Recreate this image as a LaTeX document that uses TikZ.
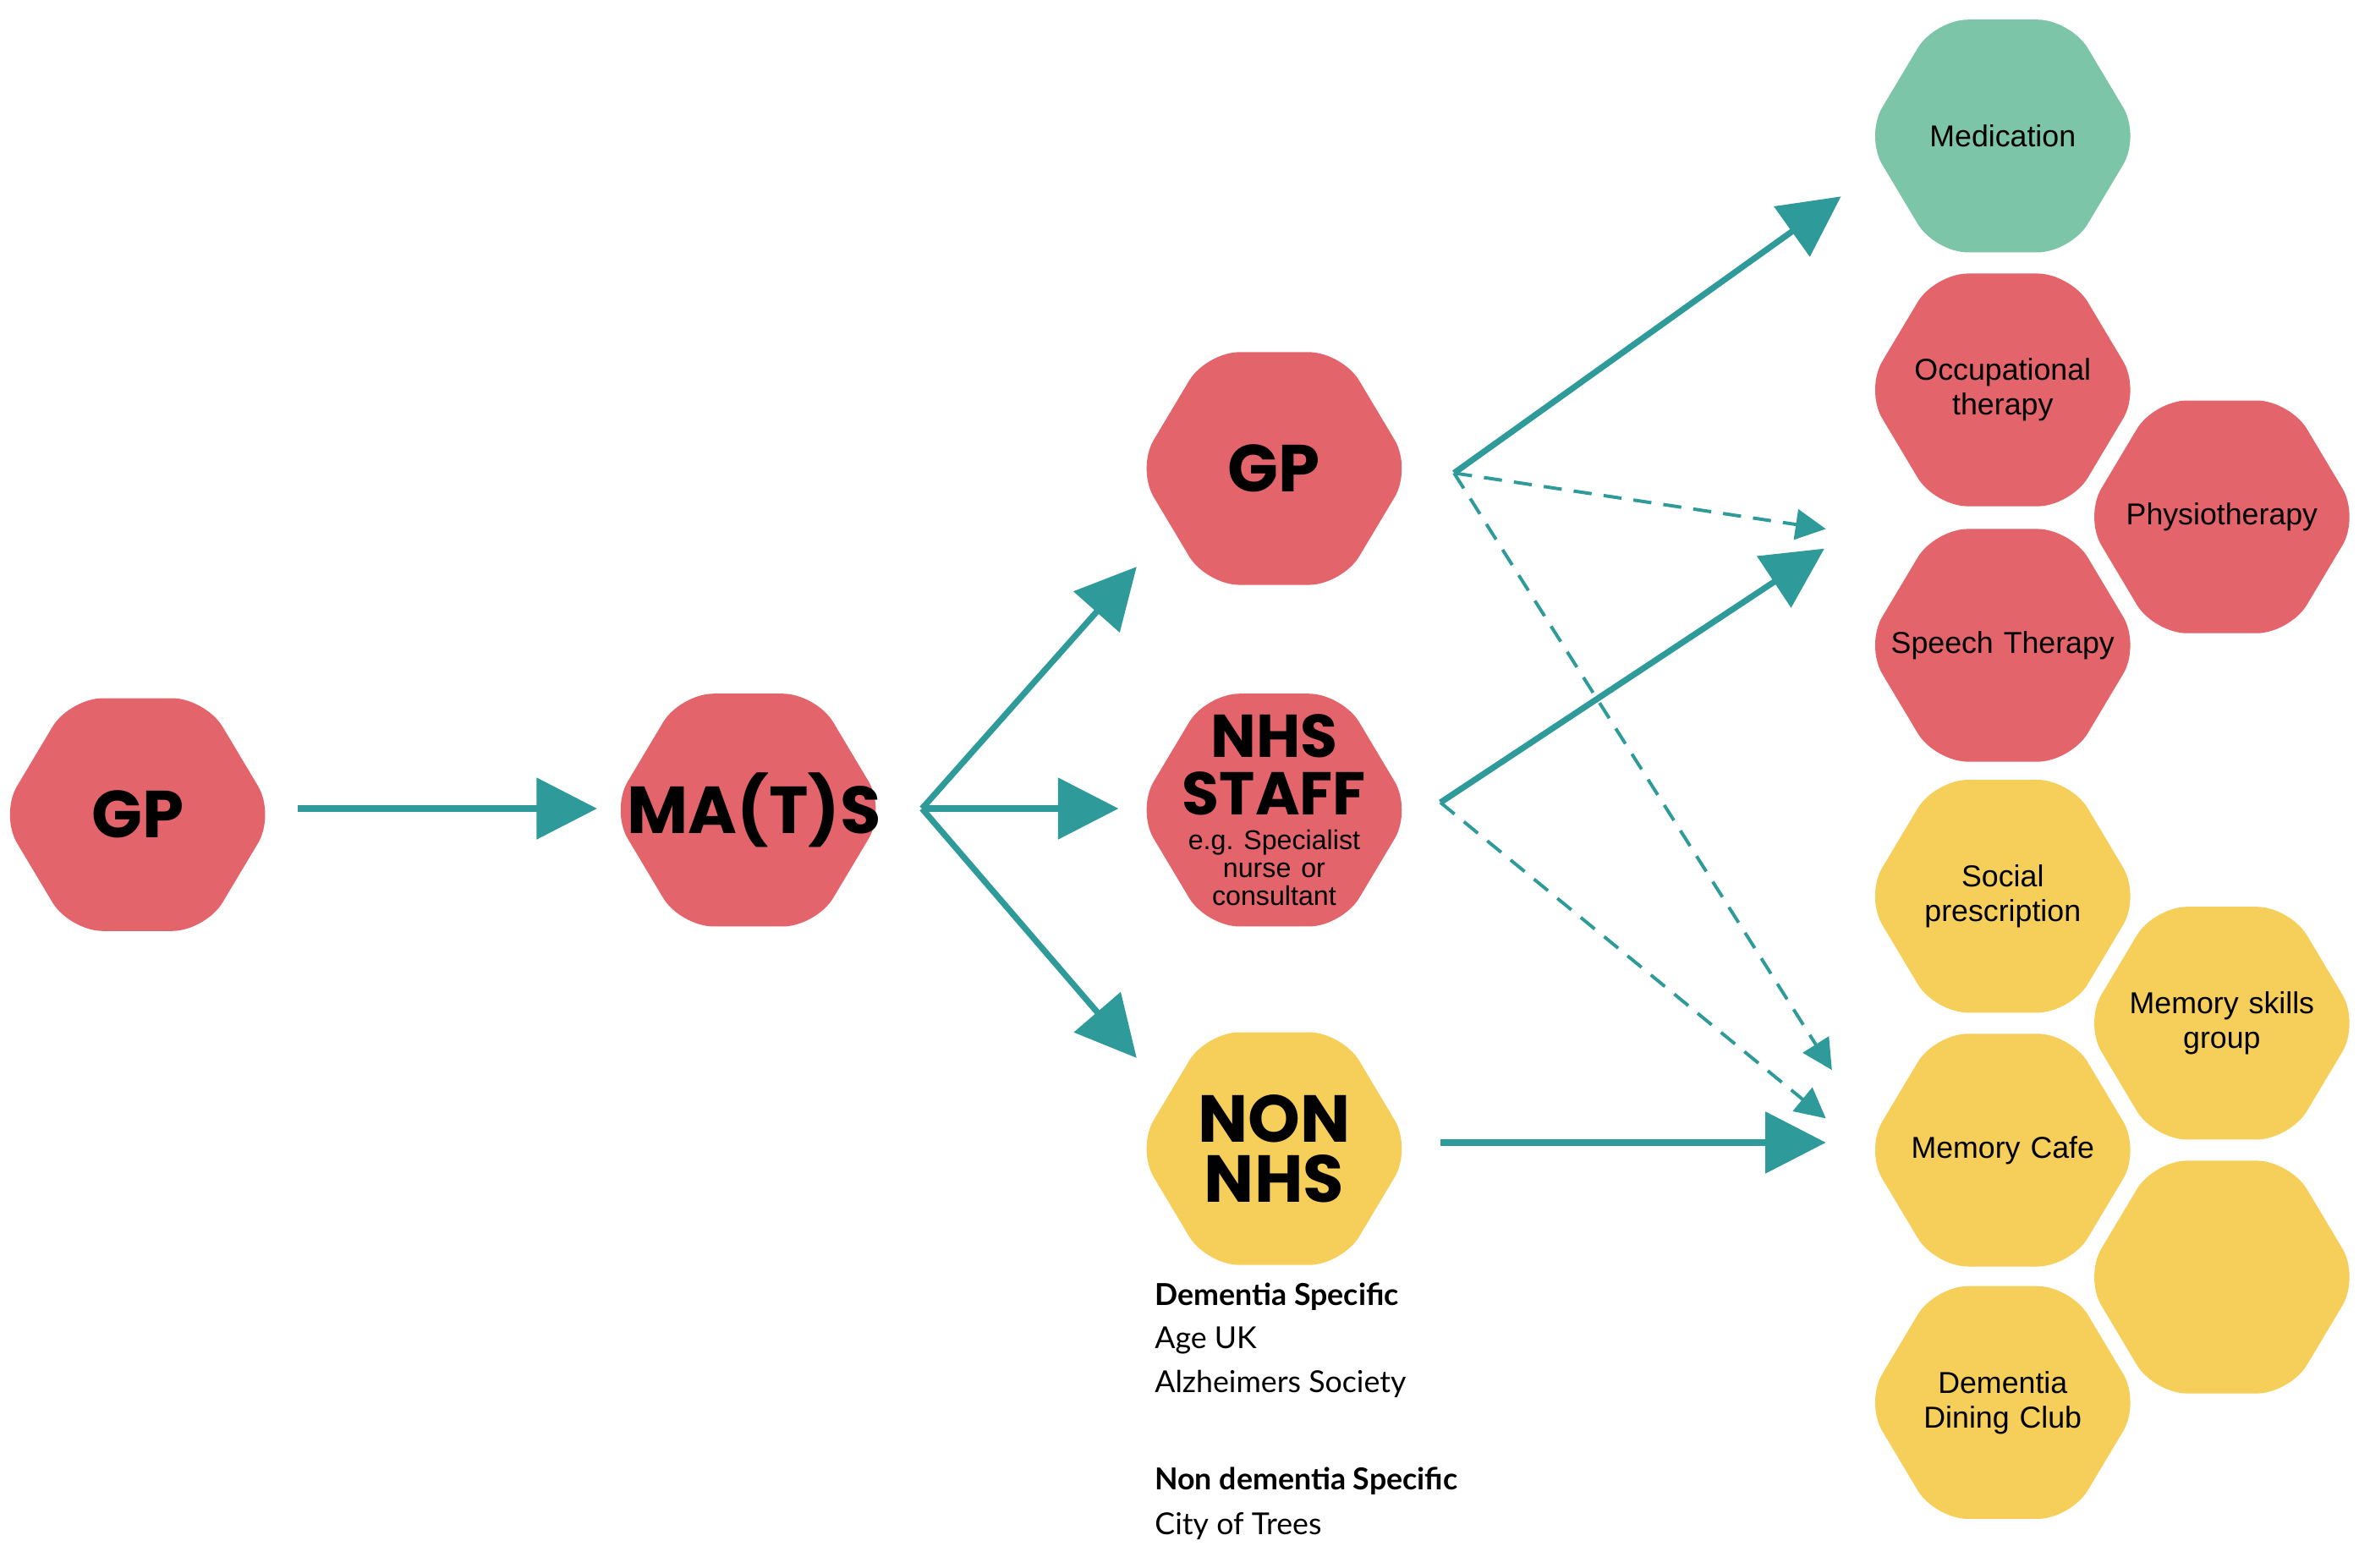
\documentclass[tikz,border=0pt]{standalone}
\usepackage{fontspec}
\setmainfont{Liberation Sans}
\newfontfamily\bigf{Poppins}
\newfontfamily\txtf{Lato}
\usetikzlibrary{shapes.geometric,arrows.meta}
\definecolor{hred}{HTML}{E3646A}
\definecolor{hgreen}{HTML}{7DC5A8}
\definecolor{hyel}{HTML}{F6CE5A}
\definecolor{teal}{HTML}{2E9A9A}
\frenchspacing
\newcommand{\hexat}[3]{\fill[#3,rounded corners=11pt] (#1-91,#2) -- (#1-45,#2-77) -- (#1+45,#2-77) -- (#1+91,#2) -- (#1+45,#2+77) -- (#1-45,#2+77) -- cycle;}
\begin{document}
\begin{tikzpicture}[x=0.5pt,y=-0.5pt,
 hex/.style={align=center,text width=80pt,inner sep=0pt,font=\fontsize{10}{11.5}\selectfont},
 big/.style={hex,font=\bigf\bfseries\fontsize{22}{20}\selectfont},
 arr/.style={teal,line width=2pt,-{Triangle[length=20pt,width=20pt]}},
 darr/.style={teal,line width=1.1pt,dash pattern=on 6pt off 4pt,-{Triangle[length=10pt,width=10pt]}},
 lab/.style={anchor=west,font=\txtf\fontsize{10}{12}\selectfont}]
\useasboundingbox (0,0) rectangle (1568,1037);
\hexat{91}{539}{hred} \hexat{495}{536}{hred} \hexat{843}{310}{hred}
\hexat{843}{536}{hred} \hexat{843}{760}{hyel}
\hexat{1325}{90}{hgreen} \hexat{1325}{258}{hred} \hexat{1470}{342}{hred}
\hexat{1325}{427}{hred} \hexat{1325}{593}{hyel} \hexat{1470}{677}{hyel}
\hexat{1325}{761}{hyel} \hexat{1470}{845}{hyel} \hexat{1325}{928}{hyel}
\node[big] (gp1) at (91,539) {GP};
\node[big] (mats) at (495,536) {MA(T)S};
\node[big] (gp2) at (843,310) {GP};
\node[hex] (nhs) at (843,536) {{\bigf\bfseries\fontsize{20}{19}\selectfont NHS\\STAFF\par}\vspace{2pt}{\fontsize{9}{9.3}\selectfont e.g. Specialist\\nurse or\\consultant\par}};
\node[big] (non) at (843,760) {NON\\NHS};
\node[hex] (med) at (1325,90) {Medication};
\node[hex] (occ) at (1325,258) {Occupational\\therapy};
\node[hex] (phy) at (1470,342) {Physiotherapy};
\node[hex] (spe) at (1325,427) {Speech Therapy};
\node[hex] (soc) at (1325,593) {Social\\prescription};
\node[hex] (msg) at (1470,677) {Memory skills\\group};
\node[hex] (caf) at (1325,761) {Memory Cafe};
\node[hex] (din) at (1325,928) {Dementia\\Dining Club};
\node[lab,font=\txtf\bfseries\fontsize{10}{12}\selectfont] (t1) at (757,858) {Dementia Specific};
\node[lab] (t2) at (757,887) {Age UK};
\node[lab] (t3) at (757,916) {Alzheimers Society};
\node[lab,font=\txtf\bfseries\fontsize{10}{12}\selectfont] (t4) at (757,980) {Non dementia Specific};
\node[lab] (t5) at (757,1010) {City of Trees};
\coordinate (a0) at (197,535); \coordinate (a1) at (395,535);
\coordinate (m0) at (610,535);
\coordinate (mg) at (752,375); \coordinate (mn) at (740,535); \coordinate (mo) at (752,700);
\coordinate (g0) at (962,313); \coordinate (gm) at (1218,130);
\coordinate (gt) at (1208,350); \coordinate (gd) at (1212,708);
\coordinate (n0) at (953,531); \coordinate (nt) at (1207,363); \coordinate (nd) at (1208,740);
\coordinate (o0) at (953,756); \coordinate (o1) at (1208,756);
\draw[arr] (a0) -- (a1);
\draw[arr] (m0) -- (mg);
\draw[arr] (m0) -- (mn);
\draw[arr] (m0) -- (mo);
\draw[arr] (g0) -- (gm);
\draw[darr] (g0) -- (gt);
\draw[darr] (g0) -- (gd);
\draw[arr] (n0) -- (nt);
\draw[darr] (n0) -- (nd);
\draw[arr] (o0) -- (o1);
\end{tikzpicture}
\end{document}
